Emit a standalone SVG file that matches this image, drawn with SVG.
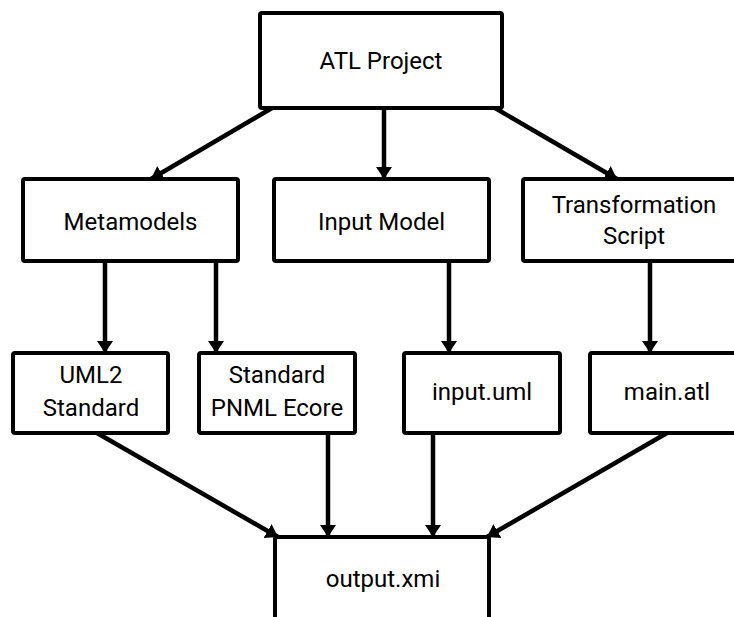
<svg xmlns="http://www.w3.org/2000/svg" width="734" height="617" viewBox="0 0 734 617">
  <style>
    .box { fill: #ffffff; stroke: #000000; stroke-width: 4; }
    .lbl { font-family: Roboto, "Liberation Sans", sans-serif; font-size: 24px; fill: #000000; text-anchor: middle; }
    .edge { stroke: #000000; stroke-width: 4.5; fill: none; marker-end: url(#head); }
  </style>
  <defs>
    <marker id="head" viewBox="0 0 12 16" refX="12" refY="8" markerWidth="12" markerHeight="16" markerUnits="userSpaceOnUse" orient="auto">
      <path d="M0,0 L12,8 L0,16 Z" fill="#000000"/>
    </marker>
  </defs>

  <g id="connectors">
    <line class="edge" x1="272" y1="108" x2="151" y2="179"/>
    <line class="edge" x1="384" y1="108" x2="384" y2="179"/>
    <line class="edge" x1="495" y1="108" x2="617" y2="179"/>
    <line class="edge" x1="105" y1="261" x2="105" y2="353"/>
    <line class="edge" x1="216" y1="261" x2="216" y2="353"/>
    <line class="edge" x1="449" y1="261" x2="449" y2="353"/>
    <line class="edge" x1="650" y1="261" x2="650" y2="353"/>
    <line class="edge" x1="97" y1="433" x2="278" y2="537"/>
    <line class="edge" x1="328" y1="433" x2="328" y2="537"/>
    <line class="edge" x1="433" y1="433" x2="433" y2="537"/>
    <line class="edge" x1="667" y1="433" x2="487" y2="537"/>
  </g>

  <g id="atl-project">
    <rect class="box" x="260" y="13" width="242" height="95" rx="2"/>
    <text class="lbl" x="381" y="69">ATL Project</text>
  </g>
  <g id="metamodels">
    <rect class="box" x="23" y="179" width="215" height="82" rx="2"/>
    <text class="lbl" x="130.5" y="230">Metamodels</text>
  </g>
  <g id="input-model">
    <rect class="box" x="274" y="179" width="215" height="82" rx="2"/>
    <text class="lbl" x="381.5" y="230">Input Model</text>
  </g>
  <g id="transformation-script">
    <rect class="box" x="523" y="179" width="222" height="82" rx="2"/>
    <text class="lbl" x="634" y="213">Transformation</text>
    <text class="lbl" x="634" y="244">Script</text>
  </g>
  <g id="uml2-standard">
    <rect class="box" x="13" y="353" width="155" height="80" rx="2"/>
    <text class="lbl" x="91" y="383">UML2</text>
    <text class="lbl" x="91" y="416">Standard</text>
  </g>
  <g id="pnml-ecore">
    <rect class="box" x="199" y="353" width="156" height="80" rx="2"/>
    <text class="lbl" x="277" y="383">Standard</text>
    <text class="lbl" x="277" y="416">PNML Ecore</text>
  </g>
  <g id="input-uml">
    <rect class="box" x="404" y="353" width="156" height="80" rx="2"/>
    <text class="lbl" x="482" y="400">input.uml</text>
  </g>
  <g id="main-atl">
    <rect class="box" x="590" y="353" width="155" height="80" rx="2"/>
    <text class="lbl" x="667" y="400">main.atl</text>
  </g>
  <g id="output-xmi">
    <rect class="box" x="275" y="537" width="214" height="90" rx="2"/>
    <text class="lbl" x="383" y="587">output.xmi</text>
  </g>
</svg>
